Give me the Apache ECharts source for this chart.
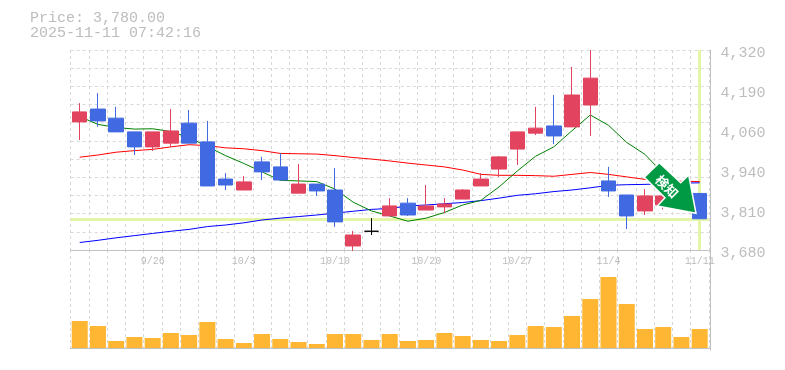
<!DOCTYPE html>
<html><head><meta charset="utf-8">
<style>html,body{margin:0;padding:0;background:#fff}#c{width:785px;height:370px}</style>
<script src="https://cdn.jsdelivr.net/npm/echarts@6/dist/echarts.min.js"></script>
</head><body><div id="c"></div>
<script>
const dates = ['9/19','9/22','9/24','9/25','9/26','9/29','9/30','10/1','10/2','10/3','10/6','10/7','10/8','10/9','10/10','10/14','10/15','10/16','10/17','10/20','10/21','10/22','10/23','10/24','10/27','10/28','10/29','10/30','10/31','11/4','11/5','11/6','11/7','11/10','11/11'];
const shownDates = ['9/26','10/3','10/10','10/20','10/27','11/4','11/11'];
// open, close, low, high
const candles = [
[4090,4122,4032,4150],[4131,4093,4074,4182],[4102,4058,4058,4138],[4058,4010,3984,4058],[4010,4058,3997,4058],
[4022,4061,4010,4131],[4086,4022,4022,4128],[4026,3885,3885,4093],[3907,3888,3872,3926],[3872,3898,3872,3917],
[3962,3930,3904,3978],[3946,3904,3904,3990],[3862,3891,3862,3955],[3891,3869,3853,3891],[3872,3770,3754,3942],
[3693,3728,3677,3741],[3740,3740,3728,3782],[3789,3821,3789,3846],[3830,3792,3789,3846],[3808,3821,3808,3888],
[3818,3827,3798,3846],[3843,3872,3843,3875],[3885,3907,3885,3926],[3939,3978,3914,3981],[4003,4058,3952,4058],
[4054,4070,4048,4138],[4077,4045,4019,4176],[4074,4176,4074,4266],[4144,4230,4045,4320],[3901,3869,3850,3946],
[3856,3789,3747,3856],[3805,3853,3792,3875],[3824,3853,3810,3853],[3815,3840,3810,3845],[3861,3780,3780,3861]];
const maShort = [4107,4082,4072,4067,4068,4059,4040,4011,3982,3957,3930,3903,3901,3899,3875,3833,3805,3789,3772,3782,3800,3824,3839,3882,3933,3980,4010,4062,4112,4079,4024,3986,3925,3890,3840];
const maMid = [3977,3984,3993,3998,4002,4010,4017,4014,4007,4004,3998,3989,3988,3987,3982,3976,3971,3965,3958,3952,3946,3936,3922,3919,3919,3918,3916,3922,3928,3922,3914,3906,3902,3900,3899];
const maLong = [3704,3711,3719,3726,3733,3740,3746,3755,3760,3767,3776,3782,3787,3792,3798,3804,3810,3813,3821,3824,3828,3832,3838,3846,3855,3860,3867,3872,3879,3887,3889,3890,3892,3894,3895];
const volumes = [27,22,7,11,10,15,13,26,9,5,14,9,6,4,14,14,8,14,7,8,15,12,8,7,13,22,21,32,49,71,44,19,21,11,19];
const priceTicks = [3680,3808,3936,4064,4192,4320];
const gridLevels = [3680,3738.2,3796.4,3854.5,3912.7,3970.9,4029.1,4087.3,4145.5,4203.6,4261.8,4320];
const titleLines = ['Price: 3,780.00','2025-11-11 07:42:16'];
const lastPrice = 3780;
const badge = '検知';

const RED='#e2445f', BLUE='#4169e1', GREY='#bdbdbd', GRID='#d8d8d8', LIME='#e4f5a8';
const MONO='"Liberation Mono","DejaVu Sans Mono",monospace';
const dash={type:[3,3],color:GRID,width:1};
const chart=echarts.init(document.getElementById('c'),null,{renderer:'canvas'});
const ma=(data,color)=>({type:'line',data,xAxisIndex:0,yAxisIndex:0,symbol:'none',silent:true,z:2,animation:false,lineStyle:{color,width:1}});

chart.setOption({
 animation:false,
 backgroundColor:'#fff',
 title:{text:titleLines.join('\n'),left:30,top:11,padding:0,textStyle:{fontFamily:MONO,fontSize:15,fontWeight:'normal',color:GREY,lineHeight:15}},
 grid:[{left:70.6,top:50,width:638.2,height:200,show:false},{left:70.6,top:250,width:638.2,height:100,show:false}],
 xAxis:[
  {type:'category',gridIndex:0,data:dates,boundaryGap:true,axisLine:{show:true,lineStyle:{color:'#c0c0c0',width:1}},axisTick:{show:false},
   splitLine:{show:true,interval:0,lineStyle:dash},
   axisLabel:{interval:(i,v)=>shownDates.includes(v),margin:6,fontFamily:MONO,fontSize:10,color:GREY,hideOverlap:false,showMaxLabel:true}},
  {type:'category',gridIndex:1,data:dates,boundaryGap:true,axisLine:{show:true,lineStyle:{color:'#c0c0c0',width:1}},axisTick:{show:false},
   splitLine:{show:true,interval:0,lineStyle:dash},axisLabel:{show:false}}
 ],
 yAxis:[
  {type:'value',gridIndex:0,min:3680,max:4320,position:'right',offset:1.2,axisLine:{show:true,lineStyle:{color:'#c0c0c0',width:1}},
   axisTick:{show:false,customValues:gridLevels},splitLine:{show:true,lineStyle:dash},
   axisLabel:{customValues:priceTicks,margin:10.5,verticalAlign:'top',lineHeight:6,fontFamily:MONO,fontSize:15,color:GREY,
    formatter:v=>(Math.round(v/10)*10).toLocaleString('en-US')}},
  {type:'value',gridIndex:1,min:-2,max:98,position:'right',offset:1.2,axisLine:{show:true,lineStyle:{color:'#c0c0c0',width:1}},
   axisTick:{show:false},splitLine:{show:false},axisLabel:{show:false}}
 ],
 series:[
  ma(maLong,'#0000ff'),ma(maMid,'#ff0000'),ma(maShort,'#008000'),
  {type:'line',data:dates.map(()=>null),symbol:'none',silent:true,z:1,
   markLine:{silent:true,z:1,symbol:'none',label:{show:false},lineStyle:{color:LIME,width:3,type:'solid'},
    data:[{yAxis:lastPrice},{xAxis:dates[dates.length-1]}]}},
  {type:'candlestick',data:candles,xAxisIndex:0,yAxisIndex:0,barWidth:15,z:3,silent:true,
   itemStyle:{color:RED,color0:BLUE,borderColor:RED,borderColor0:BLUE,borderColorDoji:'#000',borderWidth:1}},
  {type:'bar',data:volumes,xAxisIndex:1,yAxisIndex:1,barWidth:16,silent:true,itemStyle:{color:'#ffb733'}}
 ],
 graphic:[
  {type:'polygon',z:50,shape:{points:[[659.3,162.7],[644.3,177.3],[665,197.7],[657.3,206],[696,213.3],[688.7,175],[680.7,182.7]]},
   style:{fill:'#009944',stroke:'#fff',lineWidth:1.5,lineJoin:'miter'}},
  {type:'text',z:51,x:667,y:186.5,rotation:-Math.PI/4,originX:0,originY:0,
   style:{text:badge,fill:'#fff',font:'bold 13px "Noto Sans CJK JP"',align:'center',verticalAlign:'middle'}}
 ]
});
</script></body></html>
